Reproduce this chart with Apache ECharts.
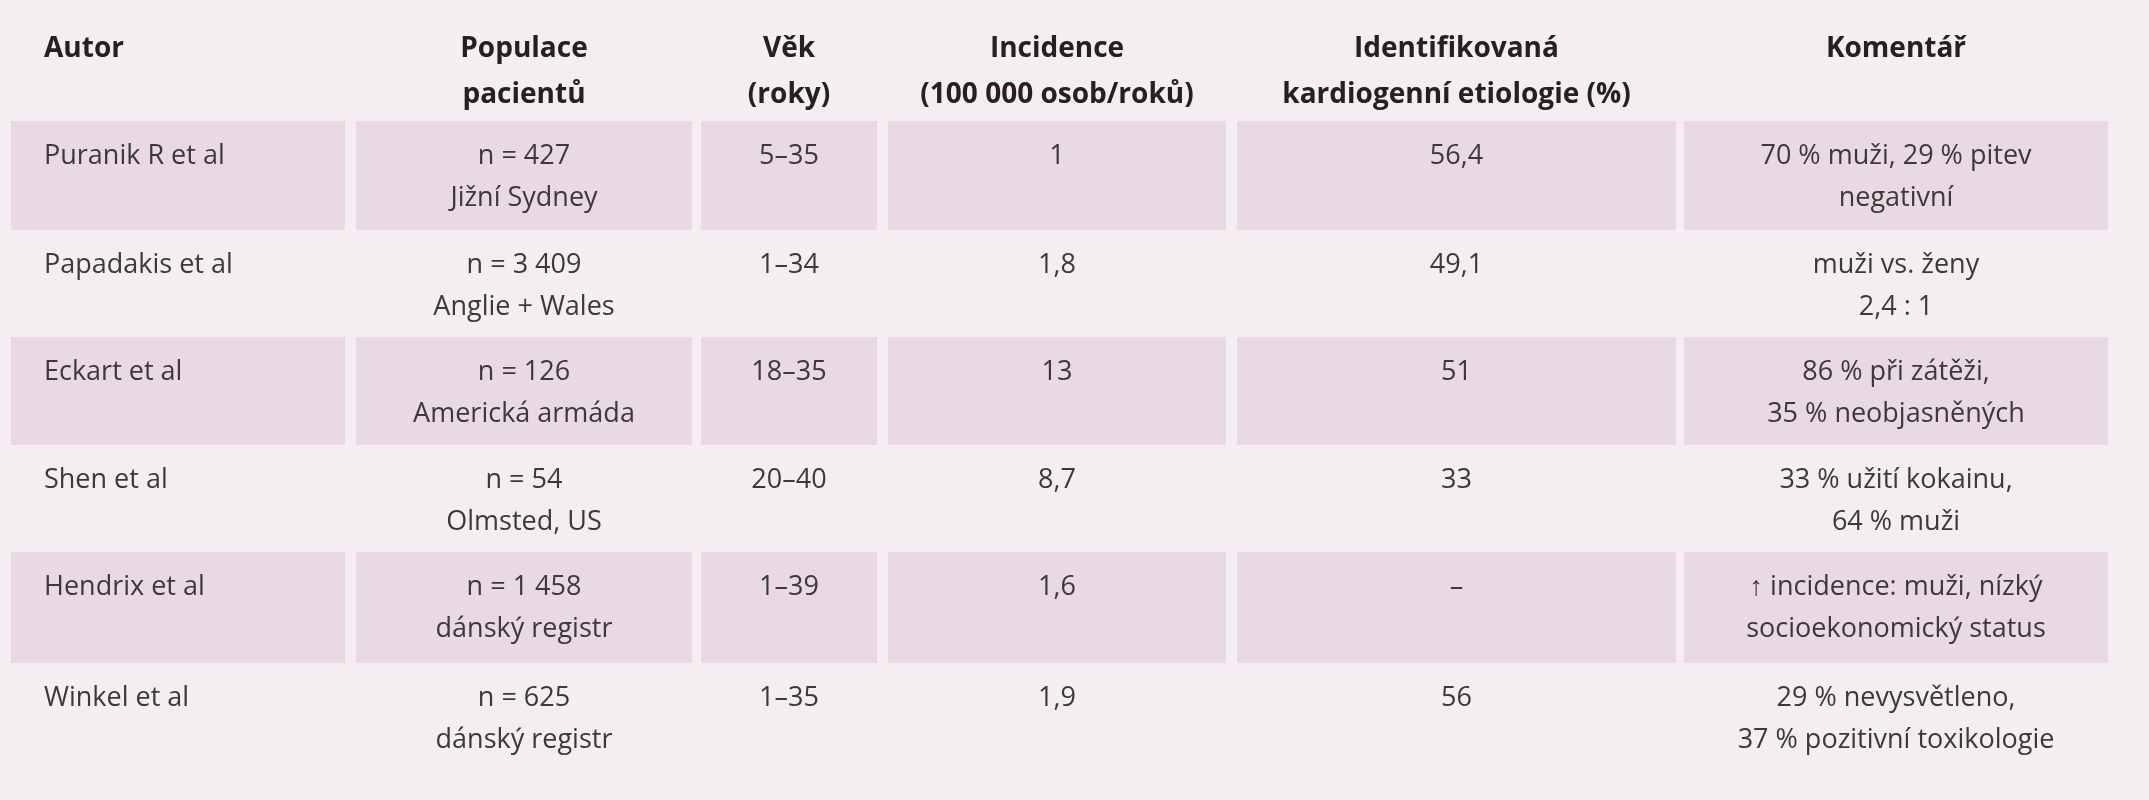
<!DOCTYPE html>
<html><head><meta charset="utf-8">
<script src="https://cdn.jsdelivr.net/npm/echarts@6/dist/echarts.min.js"></script>
<style>html,body{margin:0;padding:0;background:#f4edf1}#main{width:2149px;height:800px}</style>
</head><body><div id="main"></div>
<script>
var headers = ['Autor', 'Populace\npacientů', 'Věk\n(roky)', 'Incidence\n(100 000 osob/roků)', 'Identifikovaná\nkardiogenní etiologie (%)', 'Komentář']
var autor = ['Puranik R et al', 'Papadakis et al', 'Eckart et al', 'Shen et al', 'Hendrix et al', 'Winkel et al']
var populace = ['n = 427\nJižní Sydney', 'n = 3 409\nAnglie + Wales', 'n = 126\nAmerická armáda', 'n = 54\nOlmsted, US', 'n = 1 458\ndánský registr', 'n = 625\ndánský registr']
var vek = ['5–35', '1–34', '18–35', '20–40', '1–39', '1–35']
var incidence = ['1', '1,8', '13', '8,7', '1,6', '1,9']
var etiologie = ['56,4', '49,1', '51', '33', '–', '56']
var komentar = ['70 % muži, 29 % pitev\nnegativní', 'muži vs. ženy\n2,4 : 1', '86 % při zátěži,\n35 % neobjasněných', '33 % užití kokainu,\n64 % muži', '↑ incidence: muži, nízký\nsocioekonomický status', '29 % nevysvětleno,\n37 % pozitivní toxikologie']

// layout (pixel units on hidden value axes)
var colEdges = [[11, 345], [356, 692], [701, 877], [888, 1226], [1237, 1676], [1684, 2108]]
var rowEdges = [[0, 121], [121, 230], [230, 337], [337, 445], [445, 552], [552, 663], [663, 770]]

var columns = [autor, populace, vek, incidence, etiologie, komentar]
var cells = []
for (var c = 0; c < 6; c++) {
    cells.push([c, 0, headers[c]])
    for (var r = 0; r < 6; r++) cells.push([c, r + 1, columns[c][r]])
}

function renderCell(params, api) {
    var c = api.value(0), r = api.value(1)
    var text = cells[params.dataIndex][2]
    var ce = colEdges[c], re = rowEdges[r]
    var p0 = api.coord([ce[0], re[0]]), p1 = api.coord([ce[1], re[1]])
    var shaded = r > 0 && r % 2 == 1
    var left = c == 0
    var children = []
    if (shaded) {
        children.push({ type: 'rect', shape: { x: p0[0], y: p0[1], width: p1[0] - p0[0], height: p1[1] - p0[1] }, style: { fill: '#e8d9e2' } })
    }
    children.push({
        type: 'text',
        style: {
            text: text,
            x: left ? p0[0] + 33 : (p0[0] + p1[0]) / 2,
            y: r == 0 ? 26 : p0[1] + 14,
            align: left ? 'left' : 'center',
            verticalAlign: 'top',
            font: (r == 0 ? 'bold 28px' : '27px') + ' "Open Sans", sans-serif',
            lineHeight: r == 0 ? 46 : 42,
            fill: r == 0 ? '#222' : '#3a3a3a'
        }
    })
    return { type: 'group', children: children }
}

var chart = echarts.init(document.getElementById('main'))
chart.setOption({
    backgroundColor: '#f4edf1',
    animation: false,
    grid: { left: 0, right: 0, top: 0, bottom: 0 },
    xAxis: { type: 'value', min: 0, max: 2149, show: false },
    yAxis: { type: 'value', min: 0, max: 800, inverse: true, show: false },
    series: [{
        type: 'custom',
        renderItem: renderCell,
        data: cells.map(function (d) { return [d[0], d[1]] })
    }]
})
</script></body></html>
